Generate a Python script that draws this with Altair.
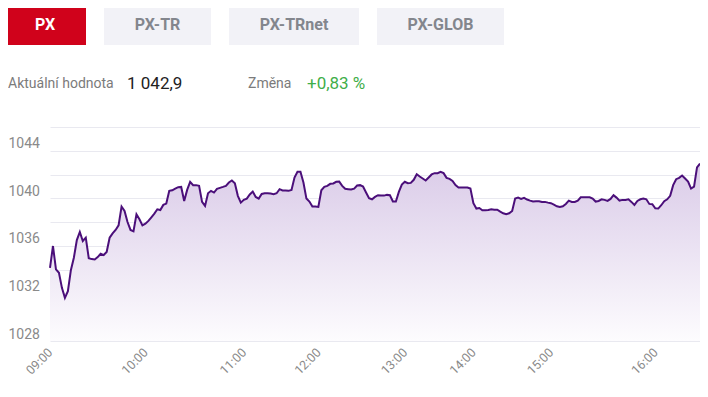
import json
import altair as alt
import pandas as pd

# ---- data -------------------------------------------------------------
values = [
    1034.16, 1035.99, 1034.02, 1033.74, 1032.47, 1031.63, 1032.19, 1033.96, 1035.00, 1036.49,
    1037.17, 1036.41, 1036.69, 1034.97, 1034.89, 1034.86, 1035.06, 1035.34, 1035.23, 1035.48,
    1036.69, 1037.05, 1037.34, 1037.73, 1039.31, 1038.94, 1038.01, 1037.34, 1037.22, 1038.66,
    1038.24, 1037.73, 1037.87, 1038.10, 1038.40, 1038.71, 1039.08, 1039.02, 1039.45, 1039.56,
    1040.63, 1040.68, 1040.82, 1040.94, 1040.96, 1039.78, 1040.71, 1041.39, 1041.11, 1041.11,
    1041.05, 1039.70, 1039.36, 1040.43, 1040.63, 1040.49, 1040.80, 1040.88, 1040.96, 1041.05,
    1041.33, 1041.50, 1041.27, 1040.21, 1039.64, 1039.87, 1039.98, 1040.32, 1040.57, 1040.12,
    1039.98, 1040.37, 1040.43, 1040.43, 1040.40, 1040.35, 1040.43, 1040.77, 1040.66, 1040.66,
    1040.63, 1040.71, 1041.75, 1042.23, 1042.23, 1041.33, 1039.98, 1039.73, 1039.31, 1039.31,
    1039.28, 1040.68, 1040.96, 1041.05, 1041.22, 1041.25, 1041.39, 1041.41, 1041.05, 1040.80,
    1040.77, 1040.74, 1040.82, 1041.08, 1041.11, 1040.99, 1040.49, 1040.01, 1039.92, 1040.12,
    1040.26, 1040.23, 1040.23, 1040.29, 1040.26, 1039.73, 1039.73, 1040.54, 1041.16, 1041.39,
    1041.27, 1041.30, 1041.56, 1042.03, 1041.84, 1041.67, 1041.50, 1041.75, 1042.01, 1042.12,
    1042.12, 1042.23, 1042.12, 1041.72, 1041.64, 1041.47, 1041.11, 1040.91, 1040.91, 1040.91,
    1040.91, 1040.82, 1039.59, 1039.14, 1039.19, 1039.00, 1039.00, 1039.02, 1039.08, 1039.05,
    1039.05, 1038.88, 1038.74, 1038.66, 1038.74, 1038.94, 1039.98, 1040.06, 1039.95, 1040.04,
    1039.90, 1039.81, 1039.73, 1039.76, 1039.76, 1039.70, 1039.70, 1039.64, 1039.59, 1039.47,
    1039.33, 1039.28, 1039.33, 1039.53, 1039.81, 1039.70, 1039.70, 1039.81, 1040.09, 1040.09,
    1040.09, 1040.09, 1039.98, 1039.73, 1039.78, 1039.92, 1039.87, 1039.78, 1039.95, 1040.26,
    1040.06, 1039.81, 1039.87, 1039.87, 1039.92, 1039.70, 1039.45, 1039.78, 1039.92, 1039.98,
    1039.92, 1039.53, 1039.50, 1039.16, 1039.14, 1039.42, 1039.76, 1039.92, 1040.21, 1041.11,
    1041.61, 1041.72, 1041.92, 1041.67, 1041.41, 1040.82, 1040.99, 1042.60, 1042.93,
]
tick_index = [0, 32, 65, 90, 119, 142, 168, 203]
tick_labels = ["09:00", "10:00", "11:00", "12:00", "13:00", "14:00", "15:00", "16:00"]
y_ticks = [1028, 1030, 1032, 1034, 1036, 1038, 1040, 1042, 1044, 1046]
tabs = ["PX", "PX-TR", "PX-TRnet", "PX-GLOB"]
info_texts = ["Aktuální hodnota", "1 042,9", "Změna", "+0,83 %"]

# ---- layout / style ---------------------------------------------------
FONT = "Roboto"
PLOT_W, PLOT_H = 650, 214
TAB_X = [(-46, 36), (54, 161), (179, 309), (327, 454)]
TAB_TEXT_X = [-5, 107.5, 244, 390.5]
TAB_Y = (-122, -82)
INFO_X = [-42, 77, 198, 257]
INFO_Y = -43
INFO_STYLE = [
    dict(fontSize=14, color="#7b7b7b"),
    dict(fontSize=17, color="#222222"),
    dict(fontSize=14, color="#7b7b7b"),
    dict(fontSize=17, color="#3fae49"),
]

df = pd.DataFrame({"i": list(range(len(values))), "v": values})

x_label_expr = "{}[indexof({}, datum.value)]".format(
    json.dumps(tick_labels).replace('"', "'"), json.dumps(tick_index)
)

x_enc = alt.X(
    "i:Q",
    scale=alt.Scale(domain=[0, len(values) - 1], nice=False, zero=False),
    axis=alt.Axis(
        values=tick_index, labelExpr=x_label_expr, title=None, grid=False,
        domain=False, ticks=False, labelAngle=-45, labelAlign="right",
        labelBaseline="middle", labelPadding=9, labelFlush=False,
        labelOverlap=False, labelBound=False, labelFontSize=12.5,
        labelColor="#8a8a8a", labelFont=FONT,
    ),
)
y_enc = alt.Y(
    "v:Q",
    scale=alt.Scale(domain=[1028, 1046], nice=False, zero=False),
    axis=alt.Axis(
        values=y_ticks,
        labelExpr="(datum.value % 4 == 0 && datum.value < 1046) ? toString(datum.value) : ''",
        title=None, grid=True, gridColor="#e9e9f0", gridWidth=1, domain=False,
        ticks=False, tickSize=0, labelAlign="left", labelBaseline="middle",
        labelPadding=42, labelOffset=-7, labelFlush=False, labelOverlap=False,
        labelBound=False, labelFontSize=14, labelColor="#8a8a8a", labelFont=FONT,
    ),
)

gradient = alt.Gradient(
    gradient="linear",
    stops=[
        alt.GradientStop(color="#dacbe8", offset=0),
        alt.GradientStop(color="#fdfcfe", offset=1),
    ],
    x1=1, x2=1, y1=0, y2=1,
)

area = alt.Chart(df).mark_area(color=gradient, interpolate="linear").encode(
    x=x_enc, y=y_enc, y2=alt.datum(1028)
)
line = alt.Chart(df).mark_line(color="#4b0f7a", strokeWidth=2, interpolate="linear").encode(
    x=x_enc, y=y_enc
)

layers = [area, line]

for k, name in enumerate(tabs):
    active = k == 0
    tdf = pd.DataFrame({"label": [name]})
    rect = alt.Chart(tdf).mark_rect(
        color="#d0021b" if active else "#f2f2f7"
    ).encode(
        x=alt.value(TAB_X[k][0]), x2=alt.value(TAB_X[k][1]),
        y=alt.value(TAB_Y[0]), y2=alt.value(TAB_Y[1]),
    )
    txt = alt.Chart(tdf).mark_text(
        font=FONT, fontSize=16, fontWeight="bold", align="center", baseline="middle",
        color="#ffffff" if active else "#83868d",
    ).encode(
        x=alt.value(TAB_TEXT_X[k]),
        y=alt.value((TAB_Y[0] + TAB_Y[1]) / 2),
        text="label:N",
    )
    layers += [rect, txt]

for k, s in enumerate(info_texts):
    idf = pd.DataFrame({"label": [s]})
    layers.append(
        alt.Chart(idf).mark_text(
            font=FONT, align="left", baseline="middle", **INFO_STYLE[k]
        ).encode(x=alt.value(INFO_X[k]), y=alt.value(INFO_Y), text="label:N")
    )

chart = alt.layer(*layers).properties(
    width=PLOT_W,
    height=PLOT_H,
    padding={"left": 42, "top": 119, "right": 0, "bottom": 42},
    autosize=alt.AutoSizeParams(type="none"),
).configure(
    font=FONT, background="#ffffff"
).configure_view(stroke=None)

chart.save("out.html", embed_options={"renderer": "svg", "actions": False})
